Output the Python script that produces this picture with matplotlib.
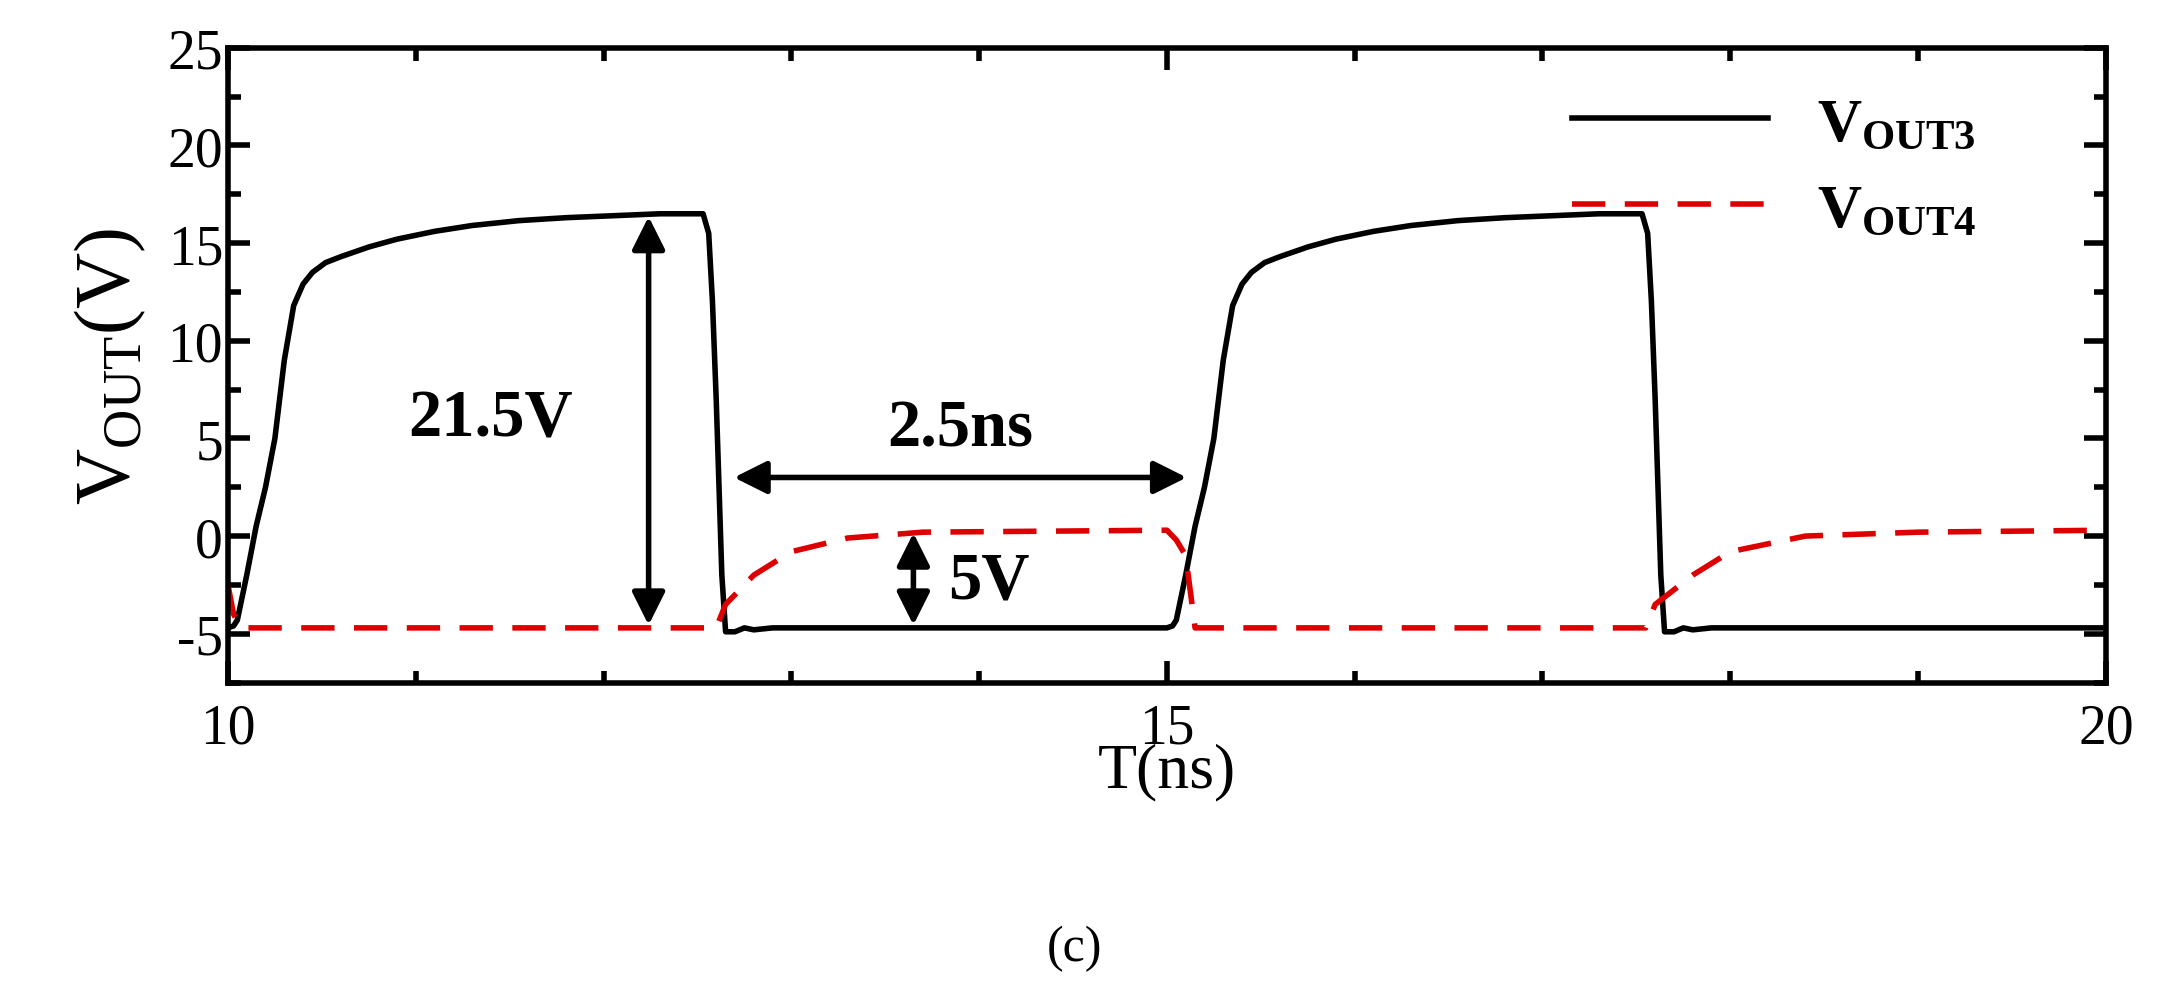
import matplotlib
matplotlib.use("Agg")
import matplotlib.pyplot as plt
import numpy as np
from matplotlib.ticker import MultipleLocator

plt.rcParams['font.family'] = ['Liberation Serif', 'DejaVu Serif']
plt.rcParams['mathtext.fontset'] = 'custom'
plt.rcParams['mathtext.rm'] = 'Liberation Serif'
plt.rcParams['mathtext.bf'] = 'Liberation Serif:bold'

# one period of VOUT3 (offset from period start)
p3_t = [0.0, 0.03, 0.05, 0.1, 0.15, 0.2, 0.25, 0.3, 0.35, 0.4, 0.45, 0.52, 0.6, 0.75, 0.9, 1.1, 1.3, 1.55, 1.8, 2.3, 2.53, 2.56, 2.58, 2.6, 2.63, 2.65, 2.7, 2.75, 2.8, 2.9]
p3_v = [-4.7, -4.6, -4.3, -2.0, 0.5, 2.5, 5.0, 9.0, 11.8, 12.9, 13.5, 14.0, 14.3, 14.8, 15.2, 15.6, 15.9, 16.15, 16.3, 16.5, 16.5, 15.5, 12.0, 7.0, -2.0, -4.9, -4.9, -4.7, -4.8, -4.7]
v3_t = np.concatenate([np.array(p3_t) + 10, np.array(p3_t) + 15, [20.0]])
v3_v = np.concatenate([p3_v, p3_v, [-4.7]])

v4_t = [10.0, 10.03, 10.07, 12.6, 12.65, 12.8, 13.0, 13.3, 13.7, 15.0, 15.05, 15.1, 15.15, 17.55, 17.6, 17.8, 18.0, 18.4, 19.0, 20.0]
v4_v = [-2.5, -4.0, -4.7, -4.7, -3.5, -2.0, -0.8, -0.1, 0.2, 0.3, -0.2, -1.0, -4.7, -4.7, -3.5, -2.0, -0.8, 0.0, 0.2, 0.3]

fig = plt.figure(figsize=(21.71, 9.95), dpi=100)
ax = fig.add_axes([0.105, 0.313, 0.865, 0.638])
ax.plot(v3_t, v3_v, color='black', lw=4, label=r'$\mathbf{V_{OUT3}}$')
ax.plot(v4_t, v4_v, color='#dd0000', lw=4, ls=(0, (6, 3.5)), label=r'$\mathbf{V_{OUT4}}$')

ax.set_xlim(10, 20)
ax.set_ylim(-7.5, 25)
ax.set_xticks([10, 15, 20])
ax.set_yticks([-5, 0, 5, 10, 15, 20, 25])
ax.set_yticklabels(['-5', '0', '5', '10', '15', '20', '25'])
ax.xaxis.set_minor_locator(MultipleLocator(1))
ax.yaxis.set_minor_locator(MultipleLocator(2.5))
ax.tick_params(which='both', direction='in', top=True, right=True, width=4, labelsize=40)
ax.tick_params(which='major', length=16)
ax.tick_params(which='minor', length=9)
ax.tick_params(axis='x', pad=14)
for s in ax.spines.values():
    s.set_linewidth(4)
ax.set_xlabel('T(ns)', fontsize=46, labelpad=-8)
ax.set_ylabel(r'V$_{\mathrm{OUT}}$(V)', fontsize=56, labelpad=14)

arr = dict(arrowstyle='<|-|>', color='black', lw=4, mutation_scale=50)
ax.annotate('', xy=(12.24, 16.5), xytext=(12.24, -4.7), arrowprops=arr)
ax.text(11.4, 6.0, '21.5V', fontsize=48, fontweight='bold', ha='center', va='center')
ax.annotate('', xy=(12.68, 3.0), xytext=(15.12, 3.0), arrowprops=arr)
ax.text(13.9, 5.5, '2.5ns', fontsize=48, fontweight='bold', ha='center', va='center')
ax.annotate('', xy=(13.65, 0.3), xytext=(13.65, -4.7), arrowprops=arr)
ax.text(14.05, -2.3, '5V', fontsize=48, fontweight='bold', ha='center', va='center')

leg = ax.legend(loc='upper right', fontsize=44, frameon=False, handlelength=3.2,
                bbox_to_anchor=(0.96, 1.01))
fig.text(0.495, 0.046, '(c)', fontsize=36, ha='center', va='center')
fig.savefig('out.png', dpi=100)
